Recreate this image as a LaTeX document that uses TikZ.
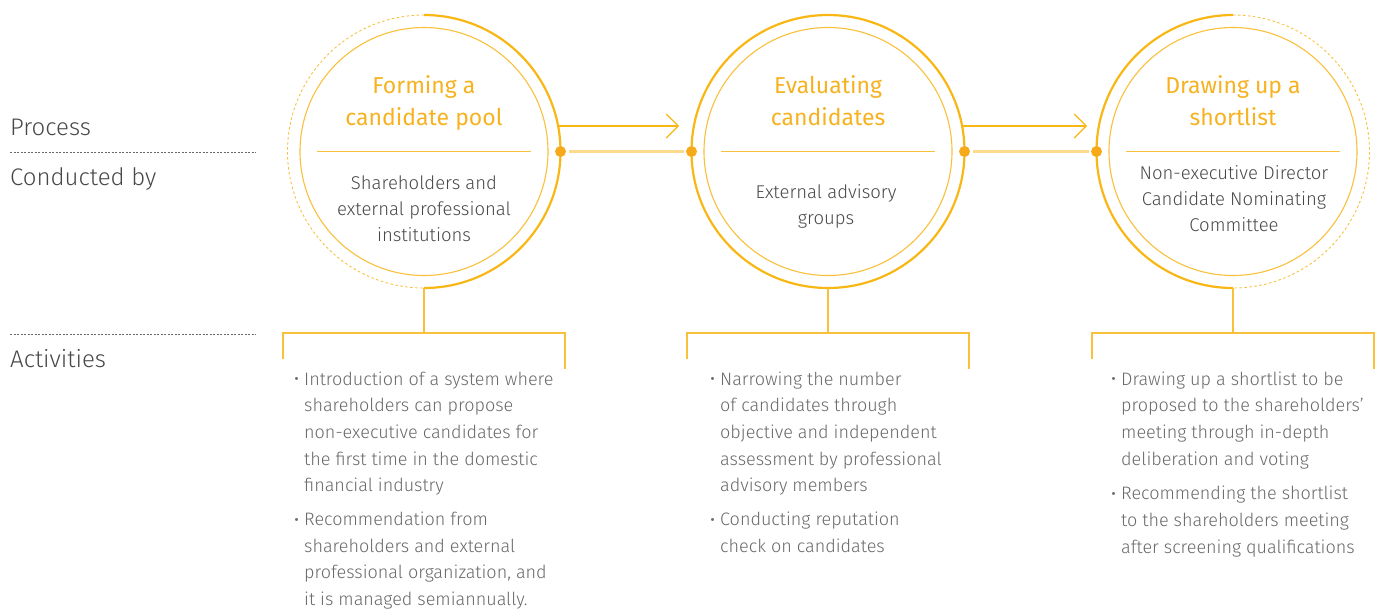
\documentclass[tikz,border=0pt]{standalone}
\usepackage{fontspec}
\setmainfont{Fira Sans Light}
\newfontfamily\titlefont{Fira Sans}
\usepackage{xcolor}
\usetikzlibrary{positioning}
\usetikzlibrary{calc,arrows.meta}

\definecolor{kbgold}{RGB}{248,183,20}
\definecolor{kbring}{RGB}{249,192,60}
\definecolor{kblight}{RGB}{253,218,140}
\definecolor{kbdot}{RGB}{247,170,25}
\definecolor{kbtitle}{RGB}{246,178,32}
\definecolor{kbtext}{RGB}{72,72,72}
\definecolor{kbgray}{RGB}{105,105,105}

% bullet list set as a table: bullet column, then the text lines
\newenvironment{actlist}{\begin{tabular}[t]{@{}p{10pt}@{}l@{}}}{\end{tabular}}
\newcommand{\bul}{{\titlefont\fontsize{21}{21}\selectfont\raisebox{-0.5pt}{·}}}

\begin{document}
\begin{tikzpicture}[x=1pt,y=-1pt]
    \useasboundingbox (0,0) rectangle (1376,611);

    % Define the styles of the rings and texts
    \tikzset{
        ring/.style={circle, minimum size=273pt, inner sep=0pt, outer sep=0pt},
        ring solid/.style={draw=kbgold, line width=2.2pt},
        ring dashed/.style={draw=kbring, line width=0.9pt, dash pattern=on 2.5pt off 2.5pt},
        ring inner/.style={draw=kbring, line width=1.1pt},
        split/.style={draw=kbring, line width=1.1pt},
        link/.style={draw=kblight, line width=3pt, shorten <=8pt, shorten >=8pt},
        flow arrow/.style={draw=kbgold, line width=1.2pt, -{Straight Barb[length=12pt, width=24pt, line width=1.2pt]}},
        stem/.style={draw=kbring, line width=1.3pt},
        title/.style={font=\titlefont\fontsize{23}{32}\selectfont, text=kbtitle, align=center, inner sep=0pt, anchor=base},
        conducted/.style={font=\fontsize{18.5}{26}\selectfont, text=kbtext, align=center, inner sep=0pt, anchor=base},
        activity/.style={font=\fontsize{18}{26.7}\selectfont, text=kbgray, inner sep=0pt, anchor=base west},
        row label/.style={font=\fontsize{24}{28}\selectfont, text=kbtext, anchor=base west, inner sep=0pt},
        row rule/.style={draw=kbgray, line width=0.8pt, dash pattern=on 2pt off 1.5pt}
    }

    % Place the three rings
    \node[ring] (pool) at (424,151.5) {};
    \node[ring] (eval) at (828,151.5) {};
    \node[ring] (short) at (1233,151.5) {};

    % Draw the outer rings
    \draw[ring dashed] (pool.north) arc[start angle=90, end angle=270, radius=136.5pt];
    \draw[ring solid] (pool.north) arc[start angle=90, end angle=-90, radius=136.5pt];
    \draw[ring solid] (eval) circle[radius=136.5pt];
    \draw[ring solid] (short.north) arc[start angle=90, end angle=270, radius=136.5pt];
    \draw[ring dashed] (short.north) arc[start angle=90, end angle=-90, radius=136.5pt];

    % Draw the inner rings and the split lines
    \foreach \s in {pool,eval,short} {
        \draw[ring inner] (\s) circle[radius=124pt];
        \draw[split] ($(\s.center)+(-107,0)$) -- ($(\s.center)+(107,0)$);
    }

    % Connect the rings
    \draw[link] (pool.east) -- (eval.west);
    \draw[link] (eval.east) -- (short.west);
    \foreach \p in {pool.east,eval.west,eval.east,short.west}
        \fill[kbdot] (\p) circle[radius=5.5pt];

    \coordinate (pool arrow) at ($(pool.center)+(134,-25.5)$);
    \coordinate (eval in) at ($(eval.center)+(-149,-25.5)$);
    \coordinate (eval arrow) at ($(eval.center)+(134,-25.5)$);
    \coordinate (short in) at ($(short.center)+(-146,-25.5)$);
    \draw[flow arrow] (pool arrow) -- (eval in);
    \draw[flow arrow] (eval arrow) -- (short in);

    % Draw the stems and brackets
    \foreach \s in {pool,eval,short} {
        \draw[stem] (\s.south) -- ++(0,45) coordinate (\s fork);
        \draw[stem] ($(\s fork)+(-141,26)$) -- ++(0,-26) -- ++(282,0) -- ++(0,36);
    }

    % Ring texts (base sits on the last line)
    \node[title] (pool title) at (424,125) {Forming a\\candidate pool};
    \node[title] (eval title) at (828,125) {Evaluating\\candidates};
    \node[title] (short title) at (1233,125) {Drawing up a\\shortlist};

    \node[conducted] (pool by) at (424,241) {Shareholders and\\external professional\\institutions};
    \node[conducted] (eval by) at (826,224) {External advisory\\groups};
    \node[conducted] (short by) at (1234,231) {Non-executive Director\\Candidate Nominating\\Committee};

    % Row labels
    \node[row label] (process) at (10,135) {Process};
    \node[row label] (by) at (10,185) {Conducted by};
    \node[row label] (acts) at (10,367) {Activities};
    \draw[row rule] (10,152) -- (256,152);
    \draw[row rule] (10,334) -- (256,334);

    % Activities
    \node[activity] (pool acts) at (294,385) {\begin{actlist}
        \bul & Introduction of a system where\\
             & shareholders can propose\\
             & non-executive candidates for\\
             & the first time in the domestic\\
             & financial industry\\[7pt]
        \bul & Recommendation from\\
             & shareholders and external\\
             & professional organization, and\\
             & it is managed semiannually.
    \end{actlist}};
    \node[activity] (eval acts) at (710,385) {\begin{actlist}
        \bul & Narrowing the number\\
             & of candidates through\\
             & objective and independent\\
             & assessment by professional\\
             & advisory members\\[7pt]
        \bul & Conducting reputation\\
             & check on candidates
    \end{actlist}};
    \node[activity] (short acts) at (1111,385) {\begin{actlist}
        \bul & Drawing up a shortlist to be\\
             & proposed to the shareholders’\\
             & meeting through in-depth\\
             & deliberation and voting\\[8pt]
        \bul & Recommending the shortlist\\
             & to the shareholders meeting\\
             & after screening qualifications
    \end{actlist}};
\end{tikzpicture}
\end{document}
